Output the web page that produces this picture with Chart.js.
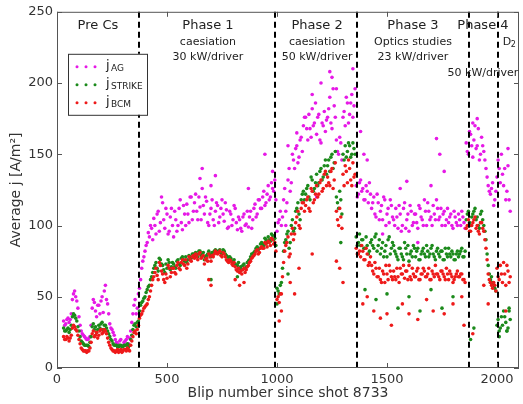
<!DOCTYPE html>
<html>
<head>
<meta charset="utf-8">
<script src="https://cdn.jsdelivr.net/npm/chart.js@4"></script>
<style>
  body { margin: 0; background: #fff; }
  canvas { display: block; }
</style>
</head>
<body>
<canvas id="grafico" width="523" height="404"></canvas>
<script>
// Blip numbers (x) shared by the three current densities, first layer
const blips = [
  30, 40, 50, 60, 70, 80, 90, 100, 110, 120,
  130, 140, 150, 160, 170, 180, 190, 200, 210, 220,
  230, 240, 250, 260, 270, 280, 290, 300, 310, 320,
  330, 340, 350, 360, 370, 380, 390, 400, 410, 420,
  430, 440, 450, 460, 470, 480, 490, 500, 510, 520,
  530, 540, 550, 560, 570, 580, 590, 600, 610, 620,
  630, 640, 650, 660, 670, 680, 690, 700, 710, 720,
  730, 740, 750, 760, 770, 780, 790, 800, 810, 820,
  830, 840, 850, 860, 870, 880, 890, 900, 910, 920,
  930, 940, 950, 960, 970, 980, 990, 1000, 1010, 1020,
  1030, 1040, 1050, 1060, 1070, 1080, 1090, 1100, 1110, 1120,
  1130, 1140, 1150, 1160, 1170, 1180, 1190, 1200, 1210, 1220,
  1230, 1240, 1250, 1260, 1270, 1280, 1290, 1300, 1310, 1320,
  1330, 1340, 1350, 1360, 1370, 1380, 1390, 1400, 1410, 1420,
  1430, 1440, 1450, 1460, 1470, 1480, 1490, 1500, 1510, 1520,
  1530, 1540, 1550, 1560, 1570, 1580, 1590, 1600, 1610, 1620,
  1630, 1640, 1650, 1660, 1670, 1680, 1690, 1700, 1710, 1720,
  1730, 1740, 1750, 1760, 1770, 1780, 1790, 1800, 1810, 1820,
  1830, 1840, 1850, 1860, 1870, 1880, 1890, 1900, 1910, 1920,
  1930, 1940, 1950, 1960, 1970, 1980, 1990, 2000, 2010, 2020,
  2030, 2040, 2050, 2060
];

const jAG = [
  33, 31, 35, 34, 48, 54, 47, 36, 26, 23,
  21, 20, 22, 42, 46, 36, 44, 47, 39, 58,
  45, 31, 27, 23, 18, 16, 20, 16, 19, 22,
  21, 32, 44, 38, 52, 62, 75, 82, 88, 92,
  98, 105, 94, 110, 102, 116, 98, 108, 96, 112,
  92, 104, 100, 118, 97, 108, 115, 102, 120, 110,
  122, 104, 113, 126, 108, 117, 100, 112, 104, 110,
  114, 106, 118, 103, 111, 99, 108, 104, 112, 97,
  104, 96, 108, 101, 99, 110, 104, 115, 108, 118,
  112, 124, 116, 128, 120, 126, 132, 96, 104, 100,
  118, 110, 132, 124, 150, 140, 156, 148, 162, 170,
  176, 160, 168, 182, 172, 164, 178, 158, 170, 166,
  176, 190, 168, 184, 160, 150, 158, 176, 170, 186,
  178, 192, 184, 128, 122, 132, 126, 118, 124, 130,
  112, 120, 106, 116, 110, 104, 118, 108, 102, 114,
  104, 112, 98, 108, 100, 116, 104, 96, 110, 102,
  108, 98, 112, 104, 118, 100, 110, 106, 114, 104,
  112, 106, 100, 110, 104, 102, 108, 98, 106, 100,
  104, 110, 102, 158, 150, 164, 148, 170, 156, 146,
  162, 152, 140, 128, 122, 130, 118, 134, 140, 150,
  128, 118, 142, 110
];

const jStrike = [
  28, 26, 28, 27, 36, 37, 33, 26, 19, 17,
  16, 16, 18, 29, 27, 25, 30, 31, 27, 30,
  26, 22, 19, 16, 16, 15, 16, 15, 16, 17,
  16, 23, 30, 29, 33, 44, 47, 50, 55, 58,
  64, 70, 74, 68, 76, 72, 67, 70, 74, 71,
  73, 70, 76, 72, 78, 75, 74, 79, 77, 80,
  81, 78, 82, 80, 76, 79, 82, 78, 80, 83,
  81, 83, 80, 82, 79, 76, 77, 74, 73, 72,
  70, 69, 73, 71, 75, 78, 80, 82, 85, 84,
  88, 86, 90, 92, 89, 93, 91, 56, 52, 60,
  82, 90, 96, 88, 104, 98, 112, 108, 118, 124,
  122, 128, 118, 132, 126, 136, 130, 140, 134, 146,
  142, 138, 150, 144, 120, 112, 118, 150, 156, 152,
  156, 150, 154, 92, 88, 86, 90, 84, 86, 82,
  90, 84, 94, 86, 80, 88, 82, 78, 92, 84,
  86, 80, 76, 84, 78, 88, 80, 75, 82, 86,
  78, 84, 76, 82, 80, 86, 78, 84, 80, 76,
  84, 78, 82, 76, 80, 84, 78, 80, 76, 82,
  80, 84, 78, 104, 110, 100, 108, 112, 106, 98,
  110, 100, 90, 72, 62, 60, 56, 30, 26, 36,
  40, 32, 28, 34
];

const jBCM = [
  22, 20, 21, 21, 28, 29, 26, 20, 14, 12,
  12, 12, 14, 24, 22, 25, 23, 27, 25, 26,
  21, 16, 13, 12, 12, 11, 13, 12, 13, 14,
  12, 19, 25, 24, 30, 37, 40, 43, 45, 50,
  58, 64, 70, 62, 72, 66, 60, 63, 70, 67,
  70, 66, 74, 69, 76, 72, 70, 78, 75, 79,
  80, 76, 81, 78, 73, 77, 80, 75, 78, 82,
  80, 82, 78, 80, 76, 74, 75, 72, 71, 68,
  67, 66, 70, 69, 72, 75, 78, 80, 83, 81,
  85, 84, 87, 89, 86, 90, 88, 48, 46, 52,
  74, 86, 92, 80, 98, 94, 106, 100, 112, 116,
  114, 120, 110, 124, 118, 128, 122, 132, 126, 138,
  134, 128, 140, 132, 110, 100, 106, 136, 142, 130,
  140, 128, 134, 84, 80, 78, 82, 76, 80, 74,
  72, 66, 70, 64, 62, 68, 60, 66, 72, 64,
  68, 62, 64, 70, 66, 63, 68, 72, 62, 66,
  64, 70, 62, 66, 68, 64, 70, 62, 66, 72,
  66, 62, 68, 64, 70, 62, 66, 60, 64, 68,
  64, 66, 62, 98, 104, 96, 102, 106, 100, 94,
  102, 96, 84, 66, 60, 56, 58, 70, 62, 66,
  74, 58, 68, 64
];

// Second layer of blips, in between the first
const blips2 = [
  35, 45, 55, 65, 75, 85, 95, 105, 115, 125,
  135, 145, 155, 165, 175, 185, 195, 205, 215, 225,
  235, 245, 255, 265, 275, 285, 295, 305, 315, 325,
  335, 345, 355, 365, 375, 385, 395, 405, 415, 425,
  435, 445, 455, 465, 475, 485, 495, 505, 515, 525,
  535, 545, 555, 565, 575, 585, 595, 605, 615, 625,
  635, 645, 655, 665, 675, 685, 695, 705, 715, 725,
  735, 745, 755, 765, 775, 785, 795, 805, 815, 825,
  835, 845, 855, 865, 875, 885, 895, 905, 915, 925,
  935, 945, 955, 965, 975, 985, 995, 1005, 1015, 1025,
  1035, 1045, 1055, 1065, 1075, 1085, 1095, 1105, 1115, 1125,
  1135, 1145, 1155, 1165, 1175, 1185, 1195, 1205, 1215, 1225,
  1235, 1245, 1255, 1265, 1275, 1285, 1295, 1305, 1315, 1325,
  1335, 1345, 1355, 1365, 1375, 1385, 1395, 1405, 1415, 1425,
  1435, 1445, 1455, 1465, 1475, 1485, 1495, 1505, 1515, 1525,
  1535, 1545, 1555, 1565, 1575, 1585, 1595, 1605, 1615, 1625,
  1635, 1645, 1655, 1665, 1675, 1685, 1695, 1705, 1715, 1725,
  1735, 1745, 1755, 1765, 1775, 1785, 1795, 1805, 1815, 1825,
  1835, 1845, 1855, 1865, 1875, 1885, 1895, 1905, 1915, 1925,
  1935, 1945, 1955, 1965, 1975, 1985, 1995, 2005, 2015, 2025,
  2035, 2045, 2055
];

const jAG2 = [
  30, 34, 32, 38, 52, 50, 42, 30, 24, 22,
  20, 21, 30, 48, 40, 44, 38, 50, 54, 48,
  38, 28, 25, 20, 17, 19, 15, 18, 20, 17,
  26, 38, 48, 42, 56, 70, 78, 86, 95, 100,
  90, 100, 108, 96, 120, 104, 112, 94, 106, 100,
  110, 96, 112, 102, 114, 100, 108, 120, 104, 116,
  110, 120, 104, 114, 120, 102, 108, 118, 100, 116,
  102, 112, 108, 116, 98, 110, 100, 114, 102, 106,
  98, 106, 100, 110, 106, 98, 112, 106, 118, 112,
  120, 114, 122, 118, 130, 124, 118, 102, 110, 106,
  126, 116, 140, 130, 146, 154, 144, 160, 152, 176,
  168, 178, 162, 170, 186, 176, 160, 172, 180, 174,
  182, 172, 196, 176, 152, 162, 146, 180, 190, 172,
  186, 176, 196, 120, 130, 124, 118, 128, 116, 122,
  116, 108, 122, 104, 114, 120, 100, 112, 118, 106,
  100, 106, 114, 96, 112, 98, 108, 114, 100, 108,
  102, 114, 106, 100, 110, 116, 104, 100, 108, 118,
  104, 112, 108, 100, 112, 106, 100, 110, 102, 108,
  100, 106, 98, 152, 166, 156, 160, 154, 168, 150,
  156, 146, 134, 124, 126, 114, 124, 146, 130, 136,
  140, 124, 118
];

const jStrike2 = [
  26, 27, 25, 30, 38, 35, 29, 22, 18, 16,
  16, 15, 22, 31, 29, 27, 28, 32, 30, 28,
  24, 20, 17, 16, 15, 16, 15, 16, 16, 15,
  20, 27, 31, 32, 40, 46, 49, 53, 57, 62,
  67, 72, 70, 77, 73, 69, 73, 76, 69, 74,
  71, 75, 73, 77, 76, 78, 76, 78, 80, 79,
  80, 82, 79, 81, 78, 80, 80, 81, 82, 82,
  82, 81, 83, 80, 78, 78, 75, 76, 72, 74,
  71, 72, 70, 74, 76, 80, 81, 84, 83, 87,
  87, 91, 88, 90, 94, 90, 86, 54, 58, 70,
  88, 94, 84, 100, 96, 110, 116, 104, 122, 118,
  126, 120, 134, 124, 130, 128, 138, 132, 142, 136,
  146, 148, 140, 152, 116, 124, 108, 146, 148, 158,
  148, 158, 150, 86, 94, 90, 84, 92, 80, 88,
  86, 92, 82, 90, 84, 78, 86, 90, 80, 88,
  82, 78, 84, 80, 76, 84, 86, 80, 78, 84,
  82, 76, 80, 84, 78, 82, 80, 86, 78, 82,
  80, 82, 76, 84, 78, 80, 82, 76, 80, 78,
  82, 78, 82, 108, 102, 106, 110, 104, 100, 108,
  104, 96, 80, 66, 64, 58, 54, 34, 28, 30,
  36, 26, 42
];

const jBCM2 = [
  20, 22, 19, 23, 30, 27, 23, 17, 13, 12,
  11, 12, 18, 26, 23, 21, 26, 24, 27, 24,
  18, 14, 12, 11, 13, 12, 11, 13, 12, 13,
  16, 22, 26, 27, 35, 38, 42, 44, 48, 54,
  62, 67, 65, 74, 68, 62, 66, 72, 64, 70,
  67, 72, 70, 74, 73, 76, 73, 76, 78, 77,
  78, 80, 77, 79, 76, 75, 78, 79, 80, 81,
  81, 79, 81, 78, 75, 76, 73, 74, 69, 70,
  68, 69, 67, 71, 74, 77, 79, 82, 80, 84,
  84, 88, 85, 88, 91, 87, 82, 50, 52, 64,
  82, 88, 78, 94, 90, 102, 110, 98, 116, 110,
  118, 112, 126, 116, 122, 120, 130, 124, 136, 128,
  130, 138, 126, 144, 104, 112, 98, 128, 138, 146,
  132, 144, 136, 80, 82, 86, 76, 84, 72, 78,
  68, 74, 64, 70, 60, 66, 72, 62, 68, 62,
  64, 70, 60, 66, 72, 68, 62, 64, 70, 64,
  68, 62, 66, 70, 64, 66, 62, 68, 64, 66,
  64, 68, 66, 62, 66, 68, 64, 62, 66, 64,
  66, 62, 60, 100, 96, 100, 104, 98, 96, 102,
  98, 90, 76, 62, 58, 60, 54, 64, 72, 60,
  66, 72, 60
];

// Scattered points away from the main bands, [blip, j]
const agOutliers = [
  [650, 133], [660, 140], [700, 128], [720, 135], [870, 126], [945, 150], [980, 138],
  [1040, 100], [1050, 156], [1090, 165], [1160, 192], [1180, 120], [1200, 200], [1240, 208],
  [1250, 204], [1270, 196], [1345, 210], [1380, 166], [1395, 150], [1410, 146], [1480, 94],
  [1560, 126], [1590, 131], [1640, 88], [1700, 128], [1725, 161], [1740, 150], [1760, 138],
  [1890, 172], [1910, 175], [2050, 154]
];
const strikeOutliers = [
  [700, 62], [820, 64], [1000, 45], [1050, 66], [1290, 88], [1400, 55], [1450, 48],
  [1500, 52], [1550, 42], [1600, 50], [1650, 40], [1700, 55], [1750, 42], [1800, 50],
  [1880, 20], [1895, 28], [1970, 60], [2010, 22], [2045, 26], [2055, 40]
];
const bcmOutliers = [
  [690, 62], [700, 58], [810, 62], [830, 58], [850, 60], [1010, 33], [1020, 40],
  [1060, 60], [1080, 52], [1100, 70], [1160, 80], [1270, 75], [1285, 70], [1300, 60],
  [1390, 45], [1410, 50], [1440, 40], [1470, 35], [1500, 38], [1520, 30], [1570, 45],
  [1600, 38], [1640, 34], [1680, 48], [1710, 40], [1760, 38], [1800, 45], [1840, 50],
  [1850, 30], [1890, 24], [1940, 58], [1960, 45], [2040, 40]
];

// Axis ticks
const xTicks = [0, 500, 1000, 1500, 2000];
const yTicks = [0, 50, 100, 150, 200, 250];

// Phase boundaries (blip numbers) and phase annotations
const phaseBounds = [373, 991, 1362, 1873, 2003];
const phaseTexts = ['Pre Cs', 'Phase 1', 'caesiation', '30 kW/driver', 'Phase 2', 'caesiation', '50 kW/driver',
  'Phase 3', 'Optics studies', '23 kW/driver', 'Phase 4', '50 kW/driver'];
const phaseTextX = [186, 686, 686, 686, 1182, 1182, 1182, 1618, 1618, 1618, 1936, 1936];
const phaseTextY = [240, 240, 229, 218.5, 240, 229, 218.5, 240, 229, 218.5, 240, 207];

const seriesNames = ['AG', 'STRIKE', 'BCM'];
const seriesColors = ['#e619e6', '#1b8a1b', '#ee1a1a'];

function pontos(valores, valores2, extras) {
  return blips.map((b, i) => ({ x: b, y: valores[i] }))
    .concat(blips2.map((b, i) => ({ x: b, y: valores2[i] })))
    .concat(extras.map(p => ({ x: p[0], y: p[1] })));
}

const fonte = 'DejaVu Sans, sans-serif';

const molduraPlugin = {
  id: 'moldura',
  afterDatasetsDraw(chart) {
    const { ctx, chartArea: a, scales } = chart;
    ctx.save();
    // linhas tracejadas das fases
    ctx.strokeStyle = '#000';
    ctx.lineWidth = 2;
    ctx.setLineDash([6, 4]);
    phaseBounds.forEach(b => {
      const px = Math.round(scales.x.getPixelForValue(b));
      ctx.beginPath();
      ctx.moveTo(px, a.top);
      ctx.lineTo(px, a.bottom);
      ctx.stroke();
    });
    ctx.setLineDash([]);

    // moldura e ticks para dentro
    ctx.strokeStyle = '#555';
    ctx.lineWidth = 1;
    ctx.strokeRect(a.left + 0.5, a.top + 0.5, a.right - a.left - 1, a.bottom - a.top - 1);
    ctx.beginPath();
    scales.x.ticks.forEach(t => {
      const px = Math.round(scales.x.getPixelForValue(t.value)) + 0.5;
      ctx.moveTo(px, a.bottom); ctx.lineTo(px, a.bottom - 5);
      ctx.moveTo(px, a.top); ctx.lineTo(px, a.top + 5);
    });
    scales.y.ticks.forEach(t => {
      const py = Math.round(scales.y.getPixelForValue(t.value)) + 0.5;
      ctx.moveTo(a.left, py); ctx.lineTo(a.left + 5, py);
      ctx.moveTo(a.right, py); ctx.lineTo(a.right - 5, py);
    });
    ctx.stroke();

    // textos das fases
    ctx.fillStyle = '#222';
    ctx.textAlign = 'center';
    ctx.textBaseline = 'middle';
    phaseTexts.forEach((txt, i) => {
      const grande = txt.startsWith('Phase') || txt === 'Pre Cs';
      ctx.font = (grande ? '13px ' : '11px ') + fonte;
      ctx.fillText(txt, scales.x.getPixelForValue(phaseTextX[i]), scales.y.getPixelForValue(phaseTextY[i]));
    });
    // D2, logo a direita da ultima linha
    const dx = scales.x.getPixelForValue(phaseBounds[4]) + 5;
    const dy = scales.y.getPixelForValue(229);
    ctx.font = '11px ' + fonte;
    ctx.textAlign = 'left';
    ctx.fillText('D', dx, dy);
    ctx.font = '8px ' + fonte;
    ctx.fillText('2', dx + 8, dy + 3);

    // legenda
    const lx = a.left + 11, ly = a.top + 42;
    ctx.fillStyle = '#fff';
    ctx.fillRect(lx, ly, 79, 61);
    ctx.strokeStyle = '#333';
    ctx.strokeRect(lx + 0.5, ly + 0.5, 79, 61);
    seriesNames.forEach((nome, i) => {
      const y = ly + 13 + i * 18;
      ctx.fillStyle = seriesColors[i];
      [9, 18, 27].forEach(dxp => {
        ctx.beginPath();
        ctx.arc(lx + dxp, y, 1.5, 0, Math.PI * 2);
        ctx.fill();
      });
      ctx.fillStyle = '#222';
      ctx.textAlign = 'left';
      ctx.font = '13px ' + fonte;
      ctx.fillText('j', lx + 38, y - 1);
      ctx.font = '9px ' + fonte;
      ctx.fillText(nome, lx + 43, y + 2);
    });
    ctx.restore();
  }
};

const ctx = document.getElementById('grafico').getContext('2d');
const grafico = new Chart(ctx, {
  type: 'scatter',
  data: {
    datasets: [
      { label: 'j_AG', data: pontos(jAG, jAG2, agOutliers), backgroundColor: seriesColors[0], order: 3 },
      { label: 'j_STRIKE', data: pontos(jStrike, jStrike2, strikeOutliers), backgroundColor: seriesColors[1], order: 2 },
      { label: 'j_BCM', data: pontos(jBCM, jBCM2, bcmOutliers), backgroundColor: seriesColors[2], order: 1 }
    ]
  },
  options: {
    responsive: false,
    animation: false,
    devicePixelRatio: 1,
    layout: { padding: { top: 10, right: 4, left: 0, bottom: 0 } },
    elements: { point: { radius: 1.8, borderWidth: 0, hoverRadius: 1.8 } },
    plugins: { legend: { display: false }, tooltip: { enabled: false } },
    scales: {
      x: {
        type: 'linear',
        min: 0,
        max: 2100,
        grid: { display: false, drawTicks: false },
        border: { display: false },
        afterBuildTicks: s => { s.ticks = xTicks.map(v => ({ value: v })); },
        afterFit: s => { s.height = 36; },
        ticks: {
          autoSkip: false, padding: 4, color: '#333', maxRotation: 0,
          font: { family: fonte, size: 13 },
          callback: v => String(v)
        },
        title: { display: true, text: 'Blip number since shot 8733', color: '#333', font: { family: fonte, size: 14 }, padding: { top: 0, bottom: 2 } }
      },
      y: {
        min: 0,
        max: 250,
        grid: { display: false, drawTicks: false },
        border: { display: false },
        afterBuildTicks: s => { s.ticks = yTicks.map(v => ({ value: v })); },
        afterFit: s => { s.width = 57; },
        ticks: { autoSkip: false, padding: 4, color: '#333', font: { family: fonte, size: 13 }, callback: v => String(v) },
        title: { display: true, text: 'Average j [A/m²]', color: '#333', font: { family: fonte, size: 14 }, padding: { top: 8, bottom: 0 } }
      }
    }
  },
  plugins: [molduraPlugin]
});
</script>
</body>
</html>
